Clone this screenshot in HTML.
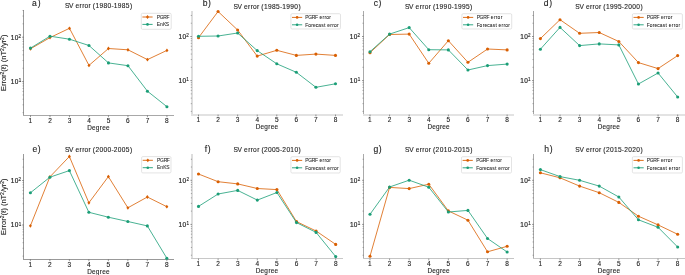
<!DOCTYPE html>
<html><head><meta charset="utf-8"><style>
html,body{margin:0;padding:0;background:#fff;width:685px;height:275px;overflow:hidden}
svg{display:block;will-change:transform}
text{font-family:"Liberation Sans",sans-serif;fill:#1f1f1f}
.b{stroke:#1f1f1f;stroke-width:0.18px}
.t{stroke:#1f1f1f;stroke-width:0.12px}
.l{stroke:#1f1f1f;stroke-width:0.06px}
</style></head><body>
<svg width="685" height="275" viewBox="0 0 685 275">
<rect width="685" height="275" fill="#fff"/>
<g><rect x="23" y="10.2" width="1" height="105.8" fill="#9a9a9a" shape-rendering="crispEdges"/><rect x="23" y="115" width="150.7" height="1" fill="#a8a8a8" shape-rendering="crispEdges"/><line x1="30.5" y1="115.4" x2="30.5" y2="117.2" stroke="#555" stroke-width="0.6"/><text x="28.6" y="123.4" font-size="6.51" class="t">1</text><line x1="49.99" y1="115.4" x2="49.99" y2="117.2" stroke="#555" stroke-width="0.6"/><text x="48.18" y="123.4" font-size="6.51" class="t">2</text><line x1="69.48" y1="115.4" x2="69.48" y2="117.2" stroke="#555" stroke-width="0.6"/><text x="67.69" y="123.4" font-size="6.51" class="t">3</text><line x1="88.97" y1="115.4" x2="88.97" y2="117.2" stroke="#555" stroke-width="0.6"/><text x="87.18" y="123.4" font-size="6.51" class="t">4</text><line x1="108.46" y1="115.4" x2="108.46" y2="117.2" stroke="#555" stroke-width="0.6"/><text x="106.66" y="123.4" font-size="6.51" class="t">5</text><line x1="127.95" y1="115.4" x2="127.95" y2="117.2" stroke="#555" stroke-width="0.6"/><text x="126.12" y="123.4" font-size="6.51" class="t">6</text><line x1="147.44" y1="115.4" x2="147.44" y2="117.2" stroke="#555" stroke-width="0.6"/><text x="145.63" y="123.4" font-size="6.51" class="t">7</text><line x1="166.93" y1="115.4" x2="166.93" y2="117.2" stroke="#555" stroke-width="0.6"/><text x="165.12" y="123.4" font-size="6.51" class="t">8</text><line x1="22.2" y1="37.2" x2="23.6" y2="37.2" stroke="#555" stroke-width="0.7"/><text x="10.78 14.76" y="39.66" font-size="6.51" class="b">10</text><text x="18.6" y="37.8" font-size="4.56" class="t">2</text><line x1="22.2" y1="81.6" x2="23.6" y2="81.6" stroke="#555" stroke-width="0.7"/><text x="10.78 14.76" y="84.06" font-size="6.51" class="b">10</text><text x="18.63" y="82.2" font-size="4.56" class="t">1</text><line x1="22.6" y1="112.63" x2="23.6" y2="112.63" stroke="#666" stroke-width="0.6"/><line x1="22.6" y1="104.82" x2="23.6" y2="104.82" stroke="#666" stroke-width="0.6"/><line x1="22.6" y1="99.27" x2="23.6" y2="99.27" stroke="#666" stroke-width="0.6"/><line x1="22.6" y1="94.97" x2="23.6" y2="94.97" stroke="#666" stroke-width="0.6"/><line x1="22.6" y1="91.45" x2="23.6" y2="91.45" stroke="#666" stroke-width="0.6"/><line x1="22.6" y1="88.48" x2="23.6" y2="88.48" stroke="#666" stroke-width="0.6"/><line x1="22.6" y1="85.9" x2="23.6" y2="85.9" stroke="#666" stroke-width="0.6"/><line x1="22.6" y1="83.63" x2="23.6" y2="83.63" stroke="#666" stroke-width="0.6"/><line x1="22.6" y1="68.23" x2="23.6" y2="68.23" stroke="#666" stroke-width="0.6"/><line x1="22.6" y1="60.42" x2="23.6" y2="60.42" stroke="#666" stroke-width="0.6"/><line x1="22.6" y1="54.87" x2="23.6" y2="54.87" stroke="#666" stroke-width="0.6"/><line x1="22.6" y1="50.57" x2="23.6" y2="50.57" stroke="#666" stroke-width="0.6"/><line x1="22.6" y1="47.05" x2="23.6" y2="47.05" stroke="#666" stroke-width="0.6"/><line x1="22.6" y1="44.08" x2="23.6" y2="44.08" stroke="#666" stroke-width="0.6"/><line x1="22.6" y1="41.5" x2="23.6" y2="41.5" stroke="#666" stroke-width="0.6"/><line x1="22.6" y1="39.23" x2="23.6" y2="39.23" stroke="#666" stroke-width="0.6"/><line x1="22.6" y1="23.83" x2="23.6" y2="23.83" stroke="#666" stroke-width="0.6"/><line x1="22.6" y1="16.02" x2="23.6" y2="16.02" stroke="#666" stroke-width="0.6"/><line x1="22.6" y1="10.47" x2="23.6" y2="10.47" stroke="#666" stroke-width="0.6"/><text x="64.91 69.02 73.47 75.5 79.58 82.17 84.54 88.62 90.97 92.85 95.48 99.5 103.53 107.54 111.42 113.79 117.81 121.84 125.82 129.98" y="8.3" font-size="6.62" class="t">SV error (1980-1985)</text><text x="32.12 37.72" y="6.3" font-size="8.61" class="t">a)</text><text x="87.29 92.05 95.81 99.87 102.18 105.94" y="130.2" font-size="6.41" class="t">Degree</text><text transform="translate(6.2 62.8) rotate(-90)" font-size="6.8" text-anchor="middle" textLength="56.4" lengthAdjust="spacingAndGlyphs" class="t">Error<tspan font-size="4.6" dy="-2.1">2</tspan><tspan dy="2.1">(</tspan><tspan>ℓ</tspan>) (nT<tspan font-size="4.6" dy="-2.1">2</tspan><tspan dy="2.1">/yr</tspan><tspan font-size="4.6" dy="-2.1">2</tspan><tspan dy="2.1">)</tspan></text><polyline points="30.5,48.8 49.99,37.6 69.48,28.3 88.97,65.4 108.46,48.5 127.95,49.8 147.44,59.6 166.93,50.4" fill="none" stroke="#d95f02" stroke-width="0.8"/><path d="M30.5 46.9L32 48.8L30.5 50.7L29 48.8Z" fill="#d95f02"/><path d="M49.99 35.7L51.49 37.6L49.99 39.5L48.49 37.6Z" fill="#d95f02"/><path d="M69.48 26.4L70.98 28.3L69.48 30.2L67.98 28.3Z" fill="#d95f02"/><path d="M88.97 63.5L90.47 65.4L88.97 67.3L87.47 65.4Z" fill="#d95f02"/><path d="M108.46 46.6L109.96 48.5L108.46 50.4L106.96 48.5Z" fill="#d95f02"/><path d="M127.95 47.9L129.45 49.8L127.95 51.7L126.45 49.8Z" fill="#d95f02"/><path d="M147.44 57.7L148.94 59.6L147.44 61.5L145.94 59.6Z" fill="#d95f02"/><path d="M166.93 48.5L168.43 50.4L166.93 52.3L165.43 50.4Z" fill="#d95f02"/><polyline points="30.5,48.1 49.99,36.2 69.48,39.2 88.97,45.5 108.46,62.9 127.95,65.7 147.44,91.2 166.93,106.7" fill="none" stroke="#1b9e77" stroke-width="0.8"/><circle cx="30.5" cy="48.1" r="1.55" fill="#1b9e77"/><circle cx="49.99" cy="36.2" r="1.55" fill="#1b9e77"/><circle cx="69.48" cy="39.2" r="1.55" fill="#1b9e77"/><circle cx="88.97" cy="45.5" r="1.55" fill="#1b9e77"/><circle cx="108.46" cy="62.9" r="1.55" fill="#1b9e77"/><circle cx="127.95" cy="65.7" r="1.55" fill="#1b9e77"/><circle cx="147.44" cy="91.2" r="1.55" fill="#1b9e77"/><circle cx="166.93" cy="106.7" r="1.55" fill="#1b9e77"/><rect x="141.3" y="13.3" width="29.9" height="16" rx="1.2" fill="#fff" fill-opacity="0.8" stroke="#d8d8d8" stroke-width="0.7"/><line x1="142.4" y1="17" x2="152.6" y2="17" stroke="#d95f02" stroke-width="0.9"/><path d="M147.5 15.1L149 17L147.5 18.9L146 17Z" fill="#d95f02"/><text x="156.79 159.67 163.34 166.52" y="18.7" font-size="4.94" class="l">PGRF</text><line x1="142.4" y1="24.4" x2="152.6" y2="24.4" stroke="#1b9e77" stroke-width="0.9"/><circle cx="147.5" cy="24.4" r="1.3" fill="#1b9e77"/><text x="156.76 160.04 162.89 165.84" y="26.1" font-size="4.94" class="l">EnKS</text></g>
<g><rect x="191" y="10.8" width="2" height="105.2" fill="#dddddd" shape-rendering="crispEdges"/><rect x="191" y="114" width="151.5" height="2" fill="#e2e2e2" shape-rendering="crispEdges"/><line x1="198.5" y1="114.6" x2="198.5" y2="116.4" stroke="#555" stroke-width="0.6"/><text x="196.6" y="121.9" font-size="6.51" class="t">1</text><line x1="218.07" y1="114.6" x2="218.07" y2="116.4" stroke="#555" stroke-width="0.6"/><text x="216.26" y="121.9" font-size="6.51" class="t">2</text><line x1="237.64" y1="114.6" x2="237.64" y2="116.4" stroke="#555" stroke-width="0.6"/><text x="235.85" y="121.9" font-size="6.51" class="t">3</text><line x1="257.21" y1="114.6" x2="257.21" y2="116.4" stroke="#555" stroke-width="0.6"/><text x="255.42" y="121.9" font-size="6.51" class="t">4</text><line x1="276.78" y1="114.6" x2="276.78" y2="116.4" stroke="#555" stroke-width="0.6"/><text x="274.98" y="121.9" font-size="6.51" class="t">5</text><line x1="296.35" y1="114.6" x2="296.35" y2="116.4" stroke="#555" stroke-width="0.6"/><text x="294.52" y="121.9" font-size="6.51" class="t">6</text><line x1="315.92" y1="114.6" x2="315.92" y2="116.4" stroke="#555" stroke-width="0.6"/><text x="314.11" y="121.9" font-size="6.51" class="t">7</text><line x1="335.49" y1="114.6" x2="335.49" y2="116.4" stroke="#555" stroke-width="0.6"/><text x="333.68" y="121.9" font-size="6.51" class="t">8</text><line x1="190.4" y1="36.5" x2="191.8" y2="36.5" stroke="#555" stroke-width="0.7"/><text x="178.48 182.46" y="38.96" font-size="6.51" class="b">10</text><text x="186.3" y="37.1" font-size="4.56" class="t">2</text><line x1="190.4" y1="80.6" x2="191.8" y2="80.6" stroke="#555" stroke-width="0.7"/><text x="178.48 182.46" y="83.06" font-size="6.51" class="b">10</text><text x="186.33" y="81.2" font-size="4.56" class="t">1</text><line x1="190.8" y1="111.42" x2="191.8" y2="111.42" stroke="#666" stroke-width="0.6"/><line x1="190.8" y1="103.66" x2="191.8" y2="103.66" stroke="#666" stroke-width="0.6"/><line x1="190.8" y1="98.15" x2="191.8" y2="98.15" stroke="#666" stroke-width="0.6"/><line x1="190.8" y1="93.88" x2="191.8" y2="93.88" stroke="#666" stroke-width="0.6"/><line x1="190.8" y1="90.38" x2="191.8" y2="90.38" stroke="#666" stroke-width="0.6"/><line x1="190.8" y1="87.43" x2="191.8" y2="87.43" stroke="#666" stroke-width="0.6"/><line x1="190.8" y1="84.87" x2="191.8" y2="84.87" stroke="#666" stroke-width="0.6"/><line x1="190.8" y1="82.62" x2="191.8" y2="82.62" stroke="#666" stroke-width="0.6"/><line x1="190.8" y1="67.32" x2="191.8" y2="67.32" stroke="#666" stroke-width="0.6"/><line x1="190.8" y1="59.56" x2="191.8" y2="59.56" stroke="#666" stroke-width="0.6"/><line x1="190.8" y1="54.05" x2="191.8" y2="54.05" stroke="#666" stroke-width="0.6"/><line x1="190.8" y1="49.78" x2="191.8" y2="49.78" stroke="#666" stroke-width="0.6"/><line x1="190.8" y1="46.28" x2="191.8" y2="46.28" stroke="#666" stroke-width="0.6"/><line x1="190.8" y1="43.33" x2="191.8" y2="43.33" stroke="#666" stroke-width="0.6"/><line x1="190.8" y1="40.77" x2="191.8" y2="40.77" stroke="#666" stroke-width="0.6"/><line x1="190.8" y1="38.52" x2="191.8" y2="38.52" stroke="#666" stroke-width="0.6"/><line x1="190.8" y1="23.22" x2="191.8" y2="23.22" stroke="#666" stroke-width="0.6"/><line x1="190.8" y1="15.46" x2="191.8" y2="15.46" stroke="#666" stroke-width="0.6"/><text x="233.41 237.52 241.97 244 248.08 250.67 253.04 257.12 259.47 261.35 263.98 268 272.03 276.01 279.92 282.29 286.31 290.32 294.34 298.48" y="8.9" font-size="6.62" class="t">SV error (1985-1990)</text><text x="202.72 208.04" y="6.3" font-size="8.61" class="t">b)</text><text x="255.79 260.55 264.31 268.37 270.68 274.44" y="129.4" font-size="6.41" class="t">Degree</text><polyline points="198.5,37.7 218.07,11.5 237.64,30 257.21,56.1 276.78,50.3 296.35,55.4 315.92,54.1 335.49,55.4" fill="none" stroke="#d95f02" stroke-width="0.8"/><circle cx="198.5" cy="37.7" r="1.55" fill="#d95f02"/><circle cx="218.07" cy="11.5" r="1.55" fill="#d95f02"/><circle cx="237.64" cy="30" r="1.55" fill="#d95f02"/><circle cx="257.21" cy="56.1" r="1.55" fill="#d95f02"/><circle cx="276.78" cy="50.3" r="1.55" fill="#d95f02"/><circle cx="296.35" cy="55.4" r="1.55" fill="#d95f02"/><circle cx="315.92" cy="54.1" r="1.55" fill="#d95f02"/><circle cx="335.49" cy="55.4" r="1.55" fill="#d95f02"/><polyline points="198.5,36.3 218.07,36 237.64,33 257.21,50.6 276.78,63.8 296.35,72.3 315.92,87.3 335.49,83.8" fill="none" stroke="#1b9e77" stroke-width="0.8"/><circle cx="198.5" cy="36.3" r="1.55" fill="#1b9e77"/><circle cx="218.07" cy="36" r="1.55" fill="#1b9e77"/><circle cx="237.64" cy="33" r="1.55" fill="#1b9e77"/><circle cx="257.21" cy="50.6" r="1.55" fill="#1b9e77"/><circle cx="276.78" cy="63.8" r="1.55" fill="#1b9e77"/><circle cx="296.35" cy="72.3" r="1.55" fill="#1b9e77"/><circle cx="315.92" cy="87.3" r="1.55" fill="#1b9e77"/><circle cx="335.49" cy="83.8" r="1.55" fill="#1b9e77"/><rect x="290.9" y="13.7" width="49.6" height="15.3" rx="1.2" fill="#fff" fill-opacity="0.8" stroke="#d8d8d8" stroke-width="0.7"/><line x1="292" y1="17.4" x2="302.2" y2="17.4" stroke="#d95f02" stroke-width="0.9"/><circle cx="297.1" cy="17.4" r="1.3" fill="#d95f02"/><text x="305.29 308.17 311.84 315.02 317.95 319.46 322.5 324.44 326.2 329.24" y="19.1" font-size="4.94" class="l">PGRF error</text><line x1="292" y1="24.8" x2="302.2" y2="24.8" stroke="#1b9e77" stroke-width="0.9"/><circle cx="297.1" cy="24.8" r="1.3" fill="#1b9e77"/><text x="305.27 308.21 311.25 313.03 315.84 318.32 321.33 323.98 325.66 327.17 330.22 332.15 333.91 336.96" y="26.5" font-size="4.94" class="l">Forecast error</text></g>
<g><rect x="363" y="10.8" width="1" height="105.2" fill="#aaaaaa" shape-rendering="crispEdges"/><rect x="363" y="114" width="151" height="2" fill="#e3e3e3" shape-rendering="crispEdges"/><line x1="370" y1="114.6" x2="370" y2="116.4" stroke="#555" stroke-width="0.6"/><text x="368.1" y="121.9" font-size="6.51" class="t">1</text><line x1="389.59" y1="114.6" x2="389.59" y2="116.4" stroke="#555" stroke-width="0.6"/><text x="387.78" y="121.9" font-size="6.51" class="t">2</text><line x1="409.18" y1="114.6" x2="409.18" y2="116.4" stroke="#555" stroke-width="0.6"/><text x="407.39" y="121.9" font-size="6.51" class="t">3</text><line x1="428.77" y1="114.6" x2="428.77" y2="116.4" stroke="#555" stroke-width="0.6"/><text x="426.98" y="121.9" font-size="6.51" class="t">4</text><line x1="448.36" y1="114.6" x2="448.36" y2="116.4" stroke="#555" stroke-width="0.6"/><text x="446.56" y="121.9" font-size="6.51" class="t">5</text><line x1="467.95" y1="114.6" x2="467.95" y2="116.4" stroke="#555" stroke-width="0.6"/><text x="466.12" y="121.9" font-size="6.51" class="t">6</text><line x1="487.54" y1="114.6" x2="487.54" y2="116.4" stroke="#555" stroke-width="0.6"/><text x="485.73" y="121.9" font-size="6.51" class="t">7</text><line x1="507.13" y1="114.6" x2="507.13" y2="116.4" stroke="#555" stroke-width="0.6"/><text x="505.32" y="121.9" font-size="6.51" class="t">8</text><line x1="362.1" y1="36.5" x2="363.5" y2="36.5" stroke="#555" stroke-width="0.7"/><text x="349.78 353.76" y="38.96" font-size="6.51" class="b">10</text><text x="357.6" y="37.1" font-size="4.56" class="t">2</text><line x1="362.1" y1="80.6" x2="363.5" y2="80.6" stroke="#555" stroke-width="0.7"/><text x="349.78 353.76" y="83.06" font-size="6.51" class="b">10</text><text x="357.63" y="81.2" font-size="4.56" class="t">1</text><line x1="362.5" y1="111.42" x2="363.5" y2="111.42" stroke="#666" stroke-width="0.6"/><line x1="362.5" y1="103.66" x2="363.5" y2="103.66" stroke="#666" stroke-width="0.6"/><line x1="362.5" y1="98.15" x2="363.5" y2="98.15" stroke="#666" stroke-width="0.6"/><line x1="362.5" y1="93.88" x2="363.5" y2="93.88" stroke="#666" stroke-width="0.6"/><line x1="362.5" y1="90.38" x2="363.5" y2="90.38" stroke="#666" stroke-width="0.6"/><line x1="362.5" y1="87.43" x2="363.5" y2="87.43" stroke="#666" stroke-width="0.6"/><line x1="362.5" y1="84.87" x2="363.5" y2="84.87" stroke="#666" stroke-width="0.6"/><line x1="362.5" y1="82.62" x2="363.5" y2="82.62" stroke="#666" stroke-width="0.6"/><line x1="362.5" y1="67.32" x2="363.5" y2="67.32" stroke="#666" stroke-width="0.6"/><line x1="362.5" y1="59.56" x2="363.5" y2="59.56" stroke="#666" stroke-width="0.6"/><line x1="362.5" y1="54.05" x2="363.5" y2="54.05" stroke="#666" stroke-width="0.6"/><line x1="362.5" y1="49.78" x2="363.5" y2="49.78" stroke="#666" stroke-width="0.6"/><line x1="362.5" y1="46.28" x2="363.5" y2="46.28" stroke="#666" stroke-width="0.6"/><line x1="362.5" y1="43.33" x2="363.5" y2="43.33" stroke="#666" stroke-width="0.6"/><line x1="362.5" y1="40.77" x2="363.5" y2="40.77" stroke="#666" stroke-width="0.6"/><line x1="362.5" y1="38.52" x2="363.5" y2="38.52" stroke="#666" stroke-width="0.6"/><line x1="362.5" y1="23.22" x2="363.5" y2="23.22" stroke="#666" stroke-width="0.6"/><line x1="362.5" y1="15.46" x2="363.5" y2="15.46" stroke="#666" stroke-width="0.6"/><text x="405.01 409.12 413.57 415.6 419.68 422.27 424.64 428.72 431.07 432.95 435.58 439.6 443.61 447.64 451.52 453.89 457.91 461.92 465.92 470.08" y="8.9" font-size="6.62" class="t">SV error (1990-1995)</text><text x="373.65 378.54" y="6.3" font-size="8.61" class="t">c)</text><text x="427.39 432.15 435.91 439.97 442.28 446.04" y="129.4" font-size="6.41" class="t">Degree</text><polyline points="370,52.7 389.59,34.5 409.18,34.1 428.77,63.3 448.36,40.7 467.95,62.3 487.54,49 507.13,49.9" fill="none" stroke="#d95f02" stroke-width="0.8"/><circle cx="370" cy="52.7" r="1.55" fill="#d95f02"/><circle cx="389.59" cy="34.5" r="1.55" fill="#d95f02"/><circle cx="409.18" cy="34.1" r="1.55" fill="#d95f02"/><circle cx="428.77" cy="63.3" r="1.55" fill="#d95f02"/><circle cx="448.36" cy="40.7" r="1.55" fill="#d95f02"/><circle cx="467.95" cy="62.3" r="1.55" fill="#d95f02"/><circle cx="487.54" cy="49" r="1.55" fill="#d95f02"/><circle cx="507.13" cy="49.9" r="1.55" fill="#d95f02"/><polyline points="370,51.7 389.59,34.1 409.18,27.6 428.77,49.7 448.36,49.9 467.95,70 487.54,65.6 507.13,64.1" fill="none" stroke="#1b9e77" stroke-width="0.8"/><circle cx="370" cy="51.7" r="1.55" fill="#1b9e77"/><circle cx="389.59" cy="34.1" r="1.55" fill="#1b9e77"/><circle cx="409.18" cy="27.6" r="1.55" fill="#1b9e77"/><circle cx="428.77" cy="49.7" r="1.55" fill="#1b9e77"/><circle cx="448.36" cy="49.9" r="1.55" fill="#1b9e77"/><circle cx="467.95" cy="70" r="1.55" fill="#1b9e77"/><circle cx="487.54" cy="65.6" r="1.55" fill="#1b9e77"/><circle cx="507.13" cy="64.1" r="1.55" fill="#1b9e77"/><rect x="461.9" y="13.7" width="49.8" height="15.3" rx="1.2" fill="#fff" fill-opacity="0.8" stroke="#d8d8d8" stroke-width="0.7"/><line x1="463" y1="17.4" x2="473.2" y2="17.4" stroke="#d95f02" stroke-width="0.9"/><circle cx="468.1" cy="17.4" r="1.3" fill="#d95f02"/><text x="476.69 479.57 483.24 486.42 489.35 490.86 493.9 495.84 497.6 500.64" y="19.1" font-size="4.94" class="l">PGRF error</text><line x1="463" y1="24.8" x2="473.2" y2="24.8" stroke="#1b9e77" stroke-width="0.9"/><circle cx="468.1" cy="24.8" r="1.3" fill="#1b9e77"/><text x="476.67 479.61 482.65 484.43 487.24 489.72 492.73 495.38 497.06 498.57 501.62 503.55 505.31 508.36" y="26.5" font-size="4.94" class="l">Forecast error</text></g>
<g><rect x="533" y="10.8" width="1" height="105.2" fill="#a5a5a5" shape-rendering="crispEdges"/><rect x="533" y="114" width="151.6" height="2" fill="#e3e3e3" shape-rendering="crispEdges"/><line x1="540.4" y1="114.6" x2="540.4" y2="116.4" stroke="#555" stroke-width="0.6"/><text x="538.5" y="121.9" font-size="6.51" class="t">1</text><line x1="560.01" y1="114.6" x2="560.01" y2="116.4" stroke="#555" stroke-width="0.6"/><text x="558.2" y="121.9" font-size="6.51" class="t">2</text><line x1="579.62" y1="114.6" x2="579.62" y2="116.4" stroke="#555" stroke-width="0.6"/><text x="577.83" y="121.9" font-size="6.51" class="t">3</text><line x1="599.23" y1="114.6" x2="599.23" y2="116.4" stroke="#555" stroke-width="0.6"/><text x="597.44" y="121.9" font-size="6.51" class="t">4</text><line x1="618.84" y1="114.6" x2="618.84" y2="116.4" stroke="#555" stroke-width="0.6"/><text x="617.04" y="121.9" font-size="6.51" class="t">5</text><line x1="638.45" y1="114.6" x2="638.45" y2="116.4" stroke="#555" stroke-width="0.6"/><text x="636.62" y="121.9" font-size="6.51" class="t">6</text><line x1="658.06" y1="114.6" x2="658.06" y2="116.4" stroke="#555" stroke-width="0.6"/><text x="656.25" y="121.9" font-size="6.51" class="t">7</text><line x1="677.67" y1="114.6" x2="677.67" y2="116.4" stroke="#555" stroke-width="0.6"/><text x="675.86" y="121.9" font-size="6.51" class="t">8</text><line x1="532.1" y1="36.5" x2="533.5" y2="36.5" stroke="#555" stroke-width="0.7"/><text x="520.18 524.16" y="38.96" font-size="6.51" class="b">10</text><text x="528" y="37.1" font-size="4.56" class="t">2</text><line x1="532.1" y1="80.6" x2="533.5" y2="80.6" stroke="#555" stroke-width="0.7"/><text x="520.18 524.16" y="83.06" font-size="6.51" class="b">10</text><text x="528.03" y="81.2" font-size="4.56" class="t">1</text><line x1="532.5" y1="111.42" x2="533.5" y2="111.42" stroke="#666" stroke-width="0.6"/><line x1="532.5" y1="103.66" x2="533.5" y2="103.66" stroke="#666" stroke-width="0.6"/><line x1="532.5" y1="98.15" x2="533.5" y2="98.15" stroke="#666" stroke-width="0.6"/><line x1="532.5" y1="93.88" x2="533.5" y2="93.88" stroke="#666" stroke-width="0.6"/><line x1="532.5" y1="90.38" x2="533.5" y2="90.38" stroke="#666" stroke-width="0.6"/><line x1="532.5" y1="87.43" x2="533.5" y2="87.43" stroke="#666" stroke-width="0.6"/><line x1="532.5" y1="84.87" x2="533.5" y2="84.87" stroke="#666" stroke-width="0.6"/><line x1="532.5" y1="82.62" x2="533.5" y2="82.62" stroke="#666" stroke-width="0.6"/><line x1="532.5" y1="67.32" x2="533.5" y2="67.32" stroke="#666" stroke-width="0.6"/><line x1="532.5" y1="59.56" x2="533.5" y2="59.56" stroke="#666" stroke-width="0.6"/><line x1="532.5" y1="54.05" x2="533.5" y2="54.05" stroke="#666" stroke-width="0.6"/><line x1="532.5" y1="49.78" x2="533.5" y2="49.78" stroke="#666" stroke-width="0.6"/><line x1="532.5" y1="46.28" x2="533.5" y2="46.28" stroke="#666" stroke-width="0.6"/><line x1="532.5" y1="43.33" x2="533.5" y2="43.33" stroke="#666" stroke-width="0.6"/><line x1="532.5" y1="40.77" x2="533.5" y2="40.77" stroke="#666" stroke-width="0.6"/><line x1="532.5" y1="38.52" x2="533.5" y2="38.52" stroke="#666" stroke-width="0.6"/><line x1="532.5" y1="23.22" x2="533.5" y2="23.22" stroke="#666" stroke-width="0.6"/><line x1="532.5" y1="15.46" x2="533.5" y2="15.46" stroke="#666" stroke-width="0.6"/><text x="575.31 579.42 583.87 585.9 589.98 592.57 594.94 599.02 601.37 603.25 605.88 609.9 613.91 617.91 621.82 624.14 628.23 632.24 636.24 640.38" y="8.9" font-size="6.62" class="t">SV error (1995-2000)</text><text x="543.81 549.24" y="6.3" font-size="8.61" class="t">d)</text><text x="597.69 602.45 606.21 610.27 612.58 616.34" y="129.4" font-size="6.41" class="t">Degree</text><polyline points="540.4,38.6 560.01,19.7 579.62,33.3 599.23,32.5 618.84,41.5 638.45,62.6 658.06,68.6 677.67,55.6" fill="none" stroke="#d95f02" stroke-width="0.8"/><circle cx="540.4" cy="38.6" r="1.55" fill="#d95f02"/><circle cx="560.01" cy="19.7" r="1.55" fill="#d95f02"/><circle cx="579.62" cy="33.3" r="1.55" fill="#d95f02"/><circle cx="599.23" cy="32.5" r="1.55" fill="#d95f02"/><circle cx="618.84" cy="41.5" r="1.55" fill="#d95f02"/><circle cx="638.45" cy="62.6" r="1.55" fill="#d95f02"/><circle cx="658.06" cy="68.6" r="1.55" fill="#d95f02"/><circle cx="677.67" cy="55.6" r="1.55" fill="#d95f02"/><polyline points="540.4,49.2 560.01,27.4 579.62,45.6 599.23,43.9 618.84,44.9 638.45,84 658.06,73 677.67,97" fill="none" stroke="#1b9e77" stroke-width="0.8"/><circle cx="540.4" cy="49.2" r="1.55" fill="#1b9e77"/><circle cx="560.01" cy="27.4" r="1.55" fill="#1b9e77"/><circle cx="579.62" cy="45.6" r="1.55" fill="#1b9e77"/><circle cx="599.23" cy="43.9" r="1.55" fill="#1b9e77"/><circle cx="618.84" cy="44.9" r="1.55" fill="#1b9e77"/><circle cx="638.45" cy="84" r="1.55" fill="#1b9e77"/><circle cx="658.06" cy="73" r="1.55" fill="#1b9e77"/><circle cx="677.67" cy="97" r="1.55" fill="#1b9e77"/><rect x="632.4" y="13.7" width="50" height="15.3" rx="1.2" fill="#fff" fill-opacity="0.8" stroke="#d8d8d8" stroke-width="0.7"/><line x1="633.5" y1="17.4" x2="643.7" y2="17.4" stroke="#d95f02" stroke-width="0.9"/><circle cx="638.6" cy="17.4" r="1.3" fill="#d95f02"/><text x="646.79 649.67 653.34 656.52 659.45 660.96 664 665.94 667.7 670.74" y="19.1" font-size="4.94" class="l">PGRF error</text><line x1="633.5" y1="24.8" x2="643.7" y2="24.8" stroke="#1b9e77" stroke-width="0.9"/><circle cx="638.6" cy="24.8" r="1.3" fill="#1b9e77"/><text x="646.77 649.71 652.75 654.53 657.34 659.82 662.83 665.48 667.16 668.67 671.72 673.65 675.41 678.46" y="26.5" font-size="4.94" class="l">Forecast error</text></g>
<g><rect x="23" y="154" width="1" height="106" fill="#999999" shape-rendering="crispEdges"/><rect x="23" y="259" width="150.7" height="1" fill="#999999" shape-rendering="crispEdges"/><line x1="30.4" y1="259.4" x2="30.4" y2="261.2" stroke="#555" stroke-width="0.6"/><text x="28.5" y="267.4" font-size="6.51" class="t">1</text><line x1="49.89" y1="259.4" x2="49.89" y2="261.2" stroke="#555" stroke-width="0.6"/><text x="48.08" y="267.4" font-size="6.51" class="t">2</text><line x1="69.38" y1="259.4" x2="69.38" y2="261.2" stroke="#555" stroke-width="0.6"/><text x="67.59" y="267.4" font-size="6.51" class="t">3</text><line x1="88.87" y1="259.4" x2="88.87" y2="261.2" stroke="#555" stroke-width="0.6"/><text x="87.08" y="267.4" font-size="6.51" class="t">4</text><line x1="108.36" y1="259.4" x2="108.36" y2="261.2" stroke="#555" stroke-width="0.6"/><text x="106.56" y="267.4" font-size="6.51" class="t">5</text><line x1="127.85" y1="259.4" x2="127.85" y2="261.2" stroke="#555" stroke-width="0.6"/><text x="126.02" y="267.4" font-size="6.51" class="t">6</text><line x1="147.34" y1="259.4" x2="147.34" y2="261.2" stroke="#555" stroke-width="0.6"/><text x="145.53" y="267.4" font-size="6.51" class="t">7</text><line x1="166.83" y1="259.4" x2="166.83" y2="261.2" stroke="#555" stroke-width="0.6"/><text x="165.02" y="267.4" font-size="6.51" class="t">8</text><line x1="22.2" y1="180.5" x2="23.6" y2="180.5" stroke="#555" stroke-width="0.7"/><text x="10.78 14.76" y="182.96" font-size="6.51" class="b">10</text><text x="18.6" y="181.1" font-size="4.56" class="t">2</text><line x1="22.2" y1="225" x2="23.6" y2="225" stroke="#555" stroke-width="0.7"/><text x="10.78 14.76" y="227.46" font-size="6.51" class="b">10</text><text x="18.63" y="225.6" font-size="4.56" class="t">1</text><line x1="22.6" y1="256.1" x2="23.6" y2="256.1" stroke="#666" stroke-width="0.6"/><line x1="22.6" y1="248.27" x2="23.6" y2="248.27" stroke="#666" stroke-width="0.6"/><line x1="22.6" y1="242.71" x2="23.6" y2="242.71" stroke="#666" stroke-width="0.6"/><line x1="22.6" y1="238.4" x2="23.6" y2="238.4" stroke="#666" stroke-width="0.6"/><line x1="22.6" y1="234.87" x2="23.6" y2="234.87" stroke="#666" stroke-width="0.6"/><line x1="22.6" y1="231.89" x2="23.6" y2="231.89" stroke="#666" stroke-width="0.6"/><line x1="22.6" y1="229.31" x2="23.6" y2="229.31" stroke="#666" stroke-width="0.6"/><line x1="22.6" y1="227.04" x2="23.6" y2="227.04" stroke="#666" stroke-width="0.6"/><line x1="22.6" y1="211.6" x2="23.6" y2="211.6" stroke="#666" stroke-width="0.6"/><line x1="22.6" y1="203.77" x2="23.6" y2="203.77" stroke="#666" stroke-width="0.6"/><line x1="22.6" y1="198.21" x2="23.6" y2="198.21" stroke="#666" stroke-width="0.6"/><line x1="22.6" y1="193.9" x2="23.6" y2="193.9" stroke="#666" stroke-width="0.6"/><line x1="22.6" y1="190.37" x2="23.6" y2="190.37" stroke="#666" stroke-width="0.6"/><line x1="22.6" y1="187.39" x2="23.6" y2="187.39" stroke="#666" stroke-width="0.6"/><line x1="22.6" y1="184.81" x2="23.6" y2="184.81" stroke="#666" stroke-width="0.6"/><line x1="22.6" y1="182.54" x2="23.6" y2="182.54" stroke="#666" stroke-width="0.6"/><line x1="22.6" y1="167.1" x2="23.6" y2="167.1" stroke="#666" stroke-width="0.6"/><line x1="22.6" y1="159.27" x2="23.6" y2="159.27" stroke="#666" stroke-width="0.6"/><text x="64.91 69.02 73.47 75.5 79.58 82.17 84.54 88.62 90.97 92.85 95.43 99.52 103.53 107.54 111.42 113.74 117.83 121.84 125.82 129.98" y="151.8" font-size="6.62" class="t">SV error (2000-2005)</text><text x="32.49 37.78" y="152.4" font-size="8.61" class="t">e)</text><text x="87.29 92.05 95.81 99.87 102.18 105.94" y="274.2" font-size="6.41" class="t">Degree</text><text transform="translate(6.2 206.7) rotate(-90)" font-size="6.8" text-anchor="middle" textLength="56.4" lengthAdjust="spacingAndGlyphs" class="t">Error<tspan font-size="4.6" dy="-2.1">2</tspan><tspan dy="2.1">(</tspan><tspan>ℓ</tspan>) (nT<tspan font-size="4.6" dy="-2.1">2</tspan><tspan dy="2.1">/yr</tspan><tspan font-size="4.6" dy="-2.1">2</tspan><tspan dy="2.1">)</tspan></text><polyline points="30.4,225.8 49.89,176.9 69.38,156.5 88.87,202.8 108.36,176.6 127.85,207.8 147.34,197 166.83,206.7" fill="none" stroke="#d95f02" stroke-width="0.8"/><path d="M30.4 223.9L31.9 225.8L30.4 227.7L28.9 225.8Z" fill="#d95f02"/><path d="M49.89 175L51.39 176.9L49.89 178.8L48.39 176.9Z" fill="#d95f02"/><path d="M69.38 154.6L70.88 156.5L69.38 158.4L67.88 156.5Z" fill="#d95f02"/><path d="M88.87 200.9L90.37 202.8L88.87 204.7L87.37 202.8Z" fill="#d95f02"/><path d="M108.36 174.7L109.86 176.6L108.36 178.5L106.86 176.6Z" fill="#d95f02"/><path d="M127.85 205.9L129.35 207.8L127.85 209.7L126.35 207.8Z" fill="#d95f02"/><path d="M147.34 195.1L148.84 197L147.34 198.9L145.84 197Z" fill="#d95f02"/><path d="M166.83 204.8L168.33 206.7L166.83 208.6L165.33 206.7Z" fill="#d95f02"/><polyline points="30.4,192.8 49.89,177.2 69.38,170.6 88.87,212.3 108.36,217.2 127.85,221.5 147.34,225.9 166.83,258.2" fill="none" stroke="#1b9e77" stroke-width="0.8"/><circle cx="30.4" cy="192.8" r="1.55" fill="#1b9e77"/><circle cx="49.89" cy="177.2" r="1.55" fill="#1b9e77"/><circle cx="69.38" cy="170.6" r="1.55" fill="#1b9e77"/><circle cx="88.87" cy="212.3" r="1.55" fill="#1b9e77"/><circle cx="108.36" cy="217.2" r="1.55" fill="#1b9e77"/><circle cx="127.85" cy="221.5" r="1.55" fill="#1b9e77"/><circle cx="147.34" cy="225.9" r="1.55" fill="#1b9e77"/><circle cx="166.83" cy="258.2" r="1.55" fill="#1b9e77"/><rect x="141.6" y="156.6" width="29.4" height="16.3" rx="1.2" fill="#fff" fill-opacity="0.8" stroke="#d8d8d8" stroke-width="0.7"/><line x1="142.7" y1="160.3" x2="152.9" y2="160.3" stroke="#d95f02" stroke-width="0.9"/><path d="M147.8 158.4L149.3 160.3L147.8 162.2L146.3 160.3Z" fill="#d95f02"/><text x="157.09 159.97 163.64 166.82" y="162" font-size="4.94" class="l">PGRF</text><line x1="142.7" y1="167.7" x2="152.9" y2="167.7" stroke="#1b9e77" stroke-width="0.9"/><circle cx="147.8" cy="167.7" r="1.3" fill="#1b9e77"/><text x="157.06 160.34 163.19 166.14" y="169.4" font-size="4.94" class="l">EnKS</text></g>
<g><rect x="191" y="154" width="2" height="105" fill="#dddddd" shape-rendering="crispEdges"/><rect x="191" y="258" width="151.5" height="1" fill="#c8c8c8" shape-rendering="crispEdges"/><line x1="198.5" y1="258.6" x2="198.5" y2="260.4" stroke="#555" stroke-width="0.6"/><text x="196.6" y="265.9" font-size="6.51" class="t">1</text><line x1="218.1" y1="258.6" x2="218.1" y2="260.4" stroke="#555" stroke-width="0.6"/><text x="216.29" y="265.9" font-size="6.51" class="t">2</text><line x1="237.7" y1="258.6" x2="237.7" y2="260.4" stroke="#555" stroke-width="0.6"/><text x="235.91" y="265.9" font-size="6.51" class="t">3</text><line x1="257.3" y1="258.6" x2="257.3" y2="260.4" stroke="#555" stroke-width="0.6"/><text x="255.51" y="265.9" font-size="6.51" class="t">4</text><line x1="276.9" y1="258.6" x2="276.9" y2="260.4" stroke="#555" stroke-width="0.6"/><text x="275.1" y="265.9" font-size="6.51" class="t">5</text><line x1="296.5" y1="258.6" x2="296.5" y2="260.4" stroke="#555" stroke-width="0.6"/><text x="294.67" y="265.9" font-size="6.51" class="t">6</text><line x1="316.1" y1="258.6" x2="316.1" y2="260.4" stroke="#555" stroke-width="0.6"/><text x="314.29" y="265.9" font-size="6.51" class="t">7</text><line x1="335.7" y1="258.6" x2="335.7" y2="260.4" stroke="#555" stroke-width="0.6"/><text x="333.89" y="265.9" font-size="6.51" class="t">8</text><line x1="190.5" y1="180.3" x2="191.9" y2="180.3" stroke="#555" stroke-width="0.7"/><text x="178.58 182.56" y="182.76" font-size="6.51" class="b">10</text><text x="186.4" y="180.9" font-size="4.56" class="t">2</text><line x1="190.5" y1="224.4" x2="191.9" y2="224.4" stroke="#555" stroke-width="0.7"/><text x="178.58 182.56" y="226.86" font-size="6.51" class="b">10</text><text x="186.43" y="225" font-size="4.56" class="t">1</text><line x1="190.9" y1="255.22" x2="191.9" y2="255.22" stroke="#666" stroke-width="0.6"/><line x1="190.9" y1="247.46" x2="191.9" y2="247.46" stroke="#666" stroke-width="0.6"/><line x1="190.9" y1="241.95" x2="191.9" y2="241.95" stroke="#666" stroke-width="0.6"/><line x1="190.9" y1="237.68" x2="191.9" y2="237.68" stroke="#666" stroke-width="0.6"/><line x1="190.9" y1="234.18" x2="191.9" y2="234.18" stroke="#666" stroke-width="0.6"/><line x1="190.9" y1="231.23" x2="191.9" y2="231.23" stroke="#666" stroke-width="0.6"/><line x1="190.9" y1="228.67" x2="191.9" y2="228.67" stroke="#666" stroke-width="0.6"/><line x1="190.9" y1="226.42" x2="191.9" y2="226.42" stroke="#666" stroke-width="0.6"/><line x1="190.9" y1="211.12" x2="191.9" y2="211.12" stroke="#666" stroke-width="0.6"/><line x1="190.9" y1="203.36" x2="191.9" y2="203.36" stroke="#666" stroke-width="0.6"/><line x1="190.9" y1="197.85" x2="191.9" y2="197.85" stroke="#666" stroke-width="0.6"/><line x1="190.9" y1="193.58" x2="191.9" y2="193.58" stroke="#666" stroke-width="0.6"/><line x1="190.9" y1="190.08" x2="191.9" y2="190.08" stroke="#666" stroke-width="0.6"/><line x1="190.9" y1="187.13" x2="191.9" y2="187.13" stroke="#666" stroke-width="0.6"/><line x1="190.9" y1="184.57" x2="191.9" y2="184.57" stroke="#666" stroke-width="0.6"/><line x1="190.9" y1="182.32" x2="191.9" y2="182.32" stroke="#666" stroke-width="0.6"/><line x1="190.9" y1="167.02" x2="191.9" y2="167.02" stroke="#666" stroke-width="0.6"/><line x1="190.9" y1="159.26" x2="191.9" y2="159.26" stroke="#666" stroke-width="0.6"/><text x="233.46 237.57 242.02 244.05 248.13 250.72 253.09 257.17 259.52 261.4 263.98 268.07 272.08 276.06 279.97 282.29 286.38 290.35 294.39 298.53" y="151.8" font-size="6.62" class="t">SV error (2005-2010)</text><text x="204.86 207.78" y="152.4" font-size="8.61" class="t">f)</text><text x="255.84 260.6 264.36 268.42 270.73 274.49" y="273.4" font-size="6.41" class="t">Degree</text><polyline points="198.5,174 218.1,181.7 237.7,183.9 257.3,188.5 276.9,189.6 296.5,221.6 316.1,231 335.7,244.4" fill="none" stroke="#d95f02" stroke-width="0.8"/><circle cx="198.5" cy="174" r="1.55" fill="#d95f02"/><circle cx="218.1" cy="181.7" r="1.55" fill="#d95f02"/><circle cx="237.7" cy="183.9" r="1.55" fill="#d95f02"/><circle cx="257.3" cy="188.5" r="1.55" fill="#d95f02"/><circle cx="276.9" cy="189.6" r="1.55" fill="#d95f02"/><circle cx="296.5" cy="221.6" r="1.55" fill="#d95f02"/><circle cx="316.1" cy="231" r="1.55" fill="#d95f02"/><circle cx="335.7" cy="244.4" r="1.55" fill="#d95f02"/><polyline points="198.5,206.4 218.1,194 237.7,190.4 257.3,200.1 276.9,192.5 296.5,222.6 316.1,232.4 335.7,256.6" fill="none" stroke="#1b9e77" stroke-width="0.8"/><circle cx="198.5" cy="206.4" r="1.55" fill="#1b9e77"/><circle cx="218.1" cy="194" r="1.55" fill="#1b9e77"/><circle cx="237.7" cy="190.4" r="1.55" fill="#1b9e77"/><circle cx="257.3" cy="200.1" r="1.55" fill="#1b9e77"/><circle cx="276.9" cy="192.5" r="1.55" fill="#1b9e77"/><circle cx="296.5" cy="222.6" r="1.55" fill="#1b9e77"/><circle cx="316.1" cy="232.4" r="1.55" fill="#1b9e77"/><circle cx="335.7" cy="256.6" r="1.55" fill="#1b9e77"/><rect x="290.9" y="156.7" width="49.3" height="16.3" rx="1.2" fill="#fff" fill-opacity="0.8" stroke="#d8d8d8" stroke-width="0.7"/><line x1="292" y1="160.4" x2="302.2" y2="160.4" stroke="#d95f02" stroke-width="0.9"/><circle cx="297.1" cy="160.4" r="1.3" fill="#d95f02"/><text x="305.29 308.17 311.84 315.02 317.95 319.46 322.5 324.44 326.2 329.24" y="162.1" font-size="4.94" class="l">PGRF error</text><line x1="292" y1="167.8" x2="302.2" y2="167.8" stroke="#1b9e77" stroke-width="0.9"/><circle cx="297.1" cy="167.8" r="1.3" fill="#1b9e77"/><text x="305.27 308.21 311.25 313.03 315.84 318.32 321.33 323.98 325.66 327.17 330.22 332.15 333.91 336.96" y="169.5" font-size="4.94" class="l">Forecast error</text></g>
<g><rect x="363" y="154" width="1" height="105" fill="#aaaaaa" shape-rendering="crispEdges"/><rect x="363" y="258" width="151" height="1" fill="#c5c5c5" shape-rendering="crispEdges"/><line x1="370" y1="258.6" x2="370" y2="260.4" stroke="#555" stroke-width="0.6"/><text x="368.1" y="265.9" font-size="6.51" class="t">1</text><line x1="389.59" y1="258.6" x2="389.59" y2="260.4" stroke="#555" stroke-width="0.6"/><text x="387.78" y="265.9" font-size="6.51" class="t">2</text><line x1="409.18" y1="258.6" x2="409.18" y2="260.4" stroke="#555" stroke-width="0.6"/><text x="407.39" y="265.9" font-size="6.51" class="t">3</text><line x1="428.77" y1="258.6" x2="428.77" y2="260.4" stroke="#555" stroke-width="0.6"/><text x="426.98" y="265.9" font-size="6.51" class="t">4</text><line x1="448.36" y1="258.6" x2="448.36" y2="260.4" stroke="#555" stroke-width="0.6"/><text x="446.56" y="265.9" font-size="6.51" class="t">5</text><line x1="467.95" y1="258.6" x2="467.95" y2="260.4" stroke="#555" stroke-width="0.6"/><text x="466.12" y="265.9" font-size="6.51" class="t">6</text><line x1="487.54" y1="258.6" x2="487.54" y2="260.4" stroke="#555" stroke-width="0.6"/><text x="485.73" y="265.9" font-size="6.51" class="t">7</text><line x1="507.13" y1="258.6" x2="507.13" y2="260.4" stroke="#555" stroke-width="0.6"/><text x="505.32" y="265.9" font-size="6.51" class="t">8</text><line x1="362.2" y1="180.3" x2="363.6" y2="180.3" stroke="#555" stroke-width="0.7"/><text x="349.88 353.86" y="182.76" font-size="6.51" class="b">10</text><text x="357.7" y="180.9" font-size="4.56" class="t">2</text><line x1="362.2" y1="224.4" x2="363.6" y2="224.4" stroke="#555" stroke-width="0.7"/><text x="349.88 353.86" y="226.86" font-size="6.51" class="b">10</text><text x="357.73" y="225" font-size="4.56" class="t">1</text><line x1="362.6" y1="255.22" x2="363.6" y2="255.22" stroke="#666" stroke-width="0.6"/><line x1="362.6" y1="247.46" x2="363.6" y2="247.46" stroke="#666" stroke-width="0.6"/><line x1="362.6" y1="241.95" x2="363.6" y2="241.95" stroke="#666" stroke-width="0.6"/><line x1="362.6" y1="237.68" x2="363.6" y2="237.68" stroke="#666" stroke-width="0.6"/><line x1="362.6" y1="234.18" x2="363.6" y2="234.18" stroke="#666" stroke-width="0.6"/><line x1="362.6" y1="231.23" x2="363.6" y2="231.23" stroke="#666" stroke-width="0.6"/><line x1="362.6" y1="228.67" x2="363.6" y2="228.67" stroke="#666" stroke-width="0.6"/><line x1="362.6" y1="226.42" x2="363.6" y2="226.42" stroke="#666" stroke-width="0.6"/><line x1="362.6" y1="211.12" x2="363.6" y2="211.12" stroke="#666" stroke-width="0.6"/><line x1="362.6" y1="203.36" x2="363.6" y2="203.36" stroke="#666" stroke-width="0.6"/><line x1="362.6" y1="197.85" x2="363.6" y2="197.85" stroke="#666" stroke-width="0.6"/><line x1="362.6" y1="193.58" x2="363.6" y2="193.58" stroke="#666" stroke-width="0.6"/><line x1="362.6" y1="190.08" x2="363.6" y2="190.08" stroke="#666" stroke-width="0.6"/><line x1="362.6" y1="187.13" x2="363.6" y2="187.13" stroke="#666" stroke-width="0.6"/><line x1="362.6" y1="184.57" x2="363.6" y2="184.57" stroke="#666" stroke-width="0.6"/><line x1="362.6" y1="182.32" x2="363.6" y2="182.32" stroke="#666" stroke-width="0.6"/><line x1="362.6" y1="167.02" x2="363.6" y2="167.02" stroke="#666" stroke-width="0.6"/><line x1="362.6" y1="159.26" x2="363.6" y2="159.26" stroke="#666" stroke-width="0.6"/><text x="405.06 409.17 413.62 415.65 419.73 422.32 424.69 428.77 431.12 433 435.58 439.67 443.65 447.69 451.57 453.89 457.98 461.95 465.97 470.13" y="151.8" font-size="6.62" class="t">SV error (2010-2015)</text><text x="373.41 378.84" y="152.4" font-size="8.61" class="t">g)</text><text x="427.44 432.2 435.96 440.02 442.33 446.09" y="273.4" font-size="6.41" class="t">Degree</text><polyline points="370,256.2 389.59,187.4 409.18,188.6 428.77,184.2 448.36,210.9 467.95,220.2 487.54,251.8 507.13,246.3" fill="none" stroke="#d95f02" stroke-width="0.8"/><circle cx="370" cy="256.2" r="1.55" fill="#d95f02"/><circle cx="389.59" cy="187.4" r="1.55" fill="#d95f02"/><circle cx="409.18" cy="188.6" r="1.55" fill="#d95f02"/><circle cx="428.77" cy="184.2" r="1.55" fill="#d95f02"/><circle cx="448.36" cy="210.9" r="1.55" fill="#d95f02"/><circle cx="467.95" cy="220.2" r="1.55" fill="#d95f02"/><circle cx="487.54" cy="251.8" r="1.55" fill="#d95f02"/><circle cx="507.13" cy="246.3" r="1.55" fill="#d95f02"/><polyline points="370,214.3 389.59,187 409.18,180.2 428.77,187.2 448.36,212 467.95,210.4 487.54,238.5 507.13,252" fill="none" stroke="#1b9e77" stroke-width="0.8"/><circle cx="370" cy="214.3" r="1.55" fill="#1b9e77"/><circle cx="389.59" cy="187" r="1.55" fill="#1b9e77"/><circle cx="409.18" cy="180.2" r="1.55" fill="#1b9e77"/><circle cx="428.77" cy="187.2" r="1.55" fill="#1b9e77"/><circle cx="448.36" cy="212" r="1.55" fill="#1b9e77"/><circle cx="467.95" cy="210.4" r="1.55" fill="#1b9e77"/><circle cx="487.54" cy="238.5" r="1.55" fill="#1b9e77"/><circle cx="507.13" cy="252" r="1.55" fill="#1b9e77"/><rect x="461.5" y="156.7" width="50" height="16.3" rx="1.2" fill="#fff" fill-opacity="0.8" stroke="#d8d8d8" stroke-width="0.7"/><line x1="462.6" y1="160.4" x2="472.8" y2="160.4" stroke="#d95f02" stroke-width="0.9"/><circle cx="467.7" cy="160.4" r="1.3" fill="#d95f02"/><text x="476.29 479.17 482.84 486.02 488.95 490.46 493.5 495.44 497.2 500.24" y="162.1" font-size="4.94" class="l">PGRF error</text><line x1="462.6" y1="167.8" x2="472.8" y2="167.8" stroke="#1b9e77" stroke-width="0.9"/><circle cx="467.7" cy="167.8" r="1.3" fill="#1b9e77"/><text x="476.27 479.21 482.25 484.03 486.84 489.32 492.33 494.98 496.66 498.17 501.22 503.15 504.91 507.96" y="169.5" font-size="4.94" class="l">Forecast error</text></g>
<g><rect x="533" y="154" width="1" height="105" fill="#aaaaaa" shape-rendering="crispEdges"/><rect x="533" y="258" width="151.6" height="1" fill="#c5c5c5" shape-rendering="crispEdges"/><line x1="540.4" y1="258.6" x2="540.4" y2="260.4" stroke="#555" stroke-width="0.6"/><text x="538.5" y="265.9" font-size="6.51" class="t">1</text><line x1="560.01" y1="258.6" x2="560.01" y2="260.4" stroke="#555" stroke-width="0.6"/><text x="558.2" y="265.9" font-size="6.51" class="t">2</text><line x1="579.62" y1="258.6" x2="579.62" y2="260.4" stroke="#555" stroke-width="0.6"/><text x="577.83" y="265.9" font-size="6.51" class="t">3</text><line x1="599.23" y1="258.6" x2="599.23" y2="260.4" stroke="#555" stroke-width="0.6"/><text x="597.44" y="265.9" font-size="6.51" class="t">4</text><line x1="618.84" y1="258.6" x2="618.84" y2="260.4" stroke="#555" stroke-width="0.6"/><text x="617.04" y="265.9" font-size="6.51" class="t">5</text><line x1="638.45" y1="258.6" x2="638.45" y2="260.4" stroke="#555" stroke-width="0.6"/><text x="636.62" y="265.9" font-size="6.51" class="t">6</text><line x1="658.06" y1="258.6" x2="658.06" y2="260.4" stroke="#555" stroke-width="0.6"/><text x="656.25" y="265.9" font-size="6.51" class="t">7</text><line x1="677.67" y1="258.6" x2="677.67" y2="260.4" stroke="#555" stroke-width="0.6"/><text x="675.86" y="265.9" font-size="6.51" class="t">8</text><line x1="532.2" y1="180.3" x2="533.6" y2="180.3" stroke="#555" stroke-width="0.7"/><text x="520.28 524.26" y="182.76" font-size="6.51" class="b">10</text><text x="528.1" y="180.9" font-size="4.56" class="t">2</text><line x1="532.2" y1="224.4" x2="533.6" y2="224.4" stroke="#555" stroke-width="0.7"/><text x="520.28 524.26" y="226.86" font-size="6.51" class="b">10</text><text x="528.13" y="225" font-size="4.56" class="t">1</text><line x1="532.6" y1="255.22" x2="533.6" y2="255.22" stroke="#666" stroke-width="0.6"/><line x1="532.6" y1="247.46" x2="533.6" y2="247.46" stroke="#666" stroke-width="0.6"/><line x1="532.6" y1="241.95" x2="533.6" y2="241.95" stroke="#666" stroke-width="0.6"/><line x1="532.6" y1="237.68" x2="533.6" y2="237.68" stroke="#666" stroke-width="0.6"/><line x1="532.6" y1="234.18" x2="533.6" y2="234.18" stroke="#666" stroke-width="0.6"/><line x1="532.6" y1="231.23" x2="533.6" y2="231.23" stroke="#666" stroke-width="0.6"/><line x1="532.6" y1="228.67" x2="533.6" y2="228.67" stroke="#666" stroke-width="0.6"/><line x1="532.6" y1="226.42" x2="533.6" y2="226.42" stroke="#666" stroke-width="0.6"/><line x1="532.6" y1="211.12" x2="533.6" y2="211.12" stroke="#666" stroke-width="0.6"/><line x1="532.6" y1="203.36" x2="533.6" y2="203.36" stroke="#666" stroke-width="0.6"/><line x1="532.6" y1="197.85" x2="533.6" y2="197.85" stroke="#666" stroke-width="0.6"/><line x1="532.6" y1="193.58" x2="533.6" y2="193.58" stroke="#666" stroke-width="0.6"/><line x1="532.6" y1="190.08" x2="533.6" y2="190.08" stroke="#666" stroke-width="0.6"/><line x1="532.6" y1="187.13" x2="533.6" y2="187.13" stroke="#666" stroke-width="0.6"/><line x1="532.6" y1="184.57" x2="533.6" y2="184.57" stroke="#666" stroke-width="0.6"/><line x1="532.6" y1="182.32" x2="533.6" y2="182.32" stroke="#666" stroke-width="0.6"/><line x1="532.6" y1="167.02" x2="533.6" y2="167.02" stroke="#666" stroke-width="0.6"/><line x1="532.6" y1="159.26" x2="533.6" y2="159.26" stroke="#666" stroke-width="0.6"/><text x="575.36 579.47 583.92 585.95 590.03 592.62 594.99 599.07 601.42 603.3 605.88 609.97 613.95 617.96 621.87 624.19 628.28 632.2 636.29 640.43" y="151.8" font-size="6.62" class="t">SV error (2015-2020)</text><text x="544.36 549.74" y="152.4" font-size="8.61" class="t">h)</text><text x="597.74 602.5 606.26 610.32 612.63 616.39" y="273.4" font-size="6.41" class="t">Degree</text><polyline points="540.4,172.8 560.01,177.8 579.62,186.1 599.23,192.7 618.84,202.4 638.45,216.2 658.06,224.9 677.67,234.3" fill="none" stroke="#d95f02" stroke-width="0.8"/><circle cx="540.4" cy="172.8" r="1.55" fill="#d95f02"/><circle cx="560.01" cy="177.8" r="1.55" fill="#d95f02"/><circle cx="579.62" cy="186.1" r="1.55" fill="#d95f02"/><circle cx="599.23" cy="192.7" r="1.55" fill="#d95f02"/><circle cx="618.84" cy="202.4" r="1.55" fill="#d95f02"/><circle cx="638.45" cy="216.2" r="1.55" fill="#d95f02"/><circle cx="658.06" cy="224.9" r="1.55" fill="#d95f02"/><circle cx="677.67" cy="234.3" r="1.55" fill="#d95f02"/><polyline points="540.4,169.6 560.01,176.6 579.62,180.3 599.23,186.1 618.84,197 638.45,219.8 658.06,227.3 677.67,247" fill="none" stroke="#1b9e77" stroke-width="0.8"/><circle cx="540.4" cy="169.6" r="1.55" fill="#1b9e77"/><circle cx="560.01" cy="176.6" r="1.55" fill="#1b9e77"/><circle cx="579.62" cy="180.3" r="1.55" fill="#1b9e77"/><circle cx="599.23" cy="186.1" r="1.55" fill="#1b9e77"/><circle cx="618.84" cy="197" r="1.55" fill="#1b9e77"/><circle cx="638.45" cy="219.8" r="1.55" fill="#1b9e77"/><circle cx="658.06" cy="227.3" r="1.55" fill="#1b9e77"/><circle cx="677.67" cy="247" r="1.55" fill="#1b9e77"/><rect x="632.4" y="156.7" width="50" height="16.3" rx="1.2" fill="#fff" fill-opacity="0.8" stroke="#d8d8d8" stroke-width="0.7"/><line x1="633.5" y1="160.4" x2="643.7" y2="160.4" stroke="#d95f02" stroke-width="0.9"/><circle cx="638.6" cy="160.4" r="1.3" fill="#d95f02"/><text x="646.79 649.67 653.34 656.52 659.45 660.96 664 665.94 667.7 670.74" y="162.1" font-size="4.94" class="l">PGRF error</text><line x1="633.5" y1="167.8" x2="643.7" y2="167.8" stroke="#1b9e77" stroke-width="0.9"/><circle cx="638.6" cy="167.8" r="1.3" fill="#1b9e77"/><text x="646.77 649.71 652.75 654.53 657.34 659.82 662.83 665.48 667.16 668.67 671.72 673.65 675.41 678.46" y="169.5" font-size="4.94" class="l">Forecast error</text></g>
</svg></body></html>
